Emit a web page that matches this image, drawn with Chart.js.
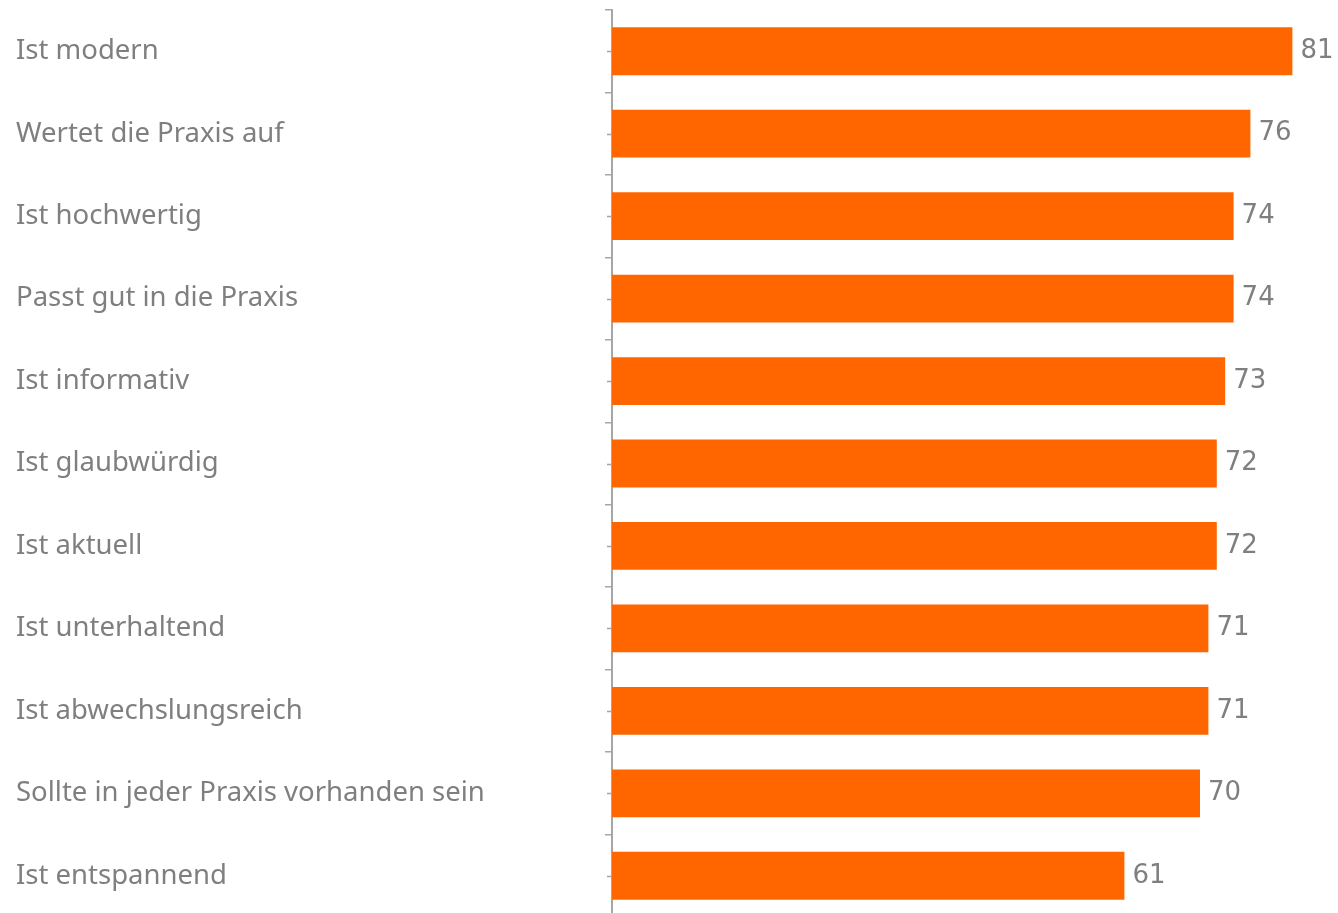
<!DOCTYPE html>
<html>
<head>
<meta charset="utf-8">
<script src="https://cdn.jsdelivr.net/npm/chart.js@4"></script>
<style>
	html, body { margin: 0; padding: 0; background: #fff; overflow: hidden; }
	#wrap { width: 1338px; height: 917px; }
</style>
</head>
<body>
<div id="wrap"><canvas id="chart"></canvas></div>
<script>
// chart data

const categories = [
	'Ist modern',
	'Wertet die Praxis auf',
	'Ist hochwertig',
	'Passt gut in die Praxis',
	'Ist informativ',
	'Ist glaubwürdig',
	'Ist aktuell',
	'Ist unterhaltend',
	'Ist abwechslungsreich',
	'Sollte in jeder Praxis vorhanden sein',
	'Ist entspannend'
];
const values = [81, 76, 74, 74, 73, 72, 72, 71, 71, 70, 61];

const textGray = '#7f7f7f',
	axisGray = '#a6a6a6';

// value labels at bar ends
const valueLabels = {
	id: 'valueLabels',
	afterDatasetsDraw(chart) {
		const ctx = chart.ctx;
		const meta = chart.getDatasetMeta(0);
		ctx.save();
		ctx.font = '26px "DejaVu Sans", Verdana, sans-serif';
		ctx.fillStyle = textGray;
		ctx.textAlign = 'left';
		ctx.textBaseline = 'middle';
		meta.data.forEach((bar, i) => {
			ctx.fillText(String(values[i]), bar.x + 8, bar.y);
		});
		ctx.restore();
	}
};

// short ticks at category centers
const centerTicks = {
	id: 'centerTicks',
	afterDraw(chart) {
		const ctx = chart.ctx;
		const y = chart.scales.y;
		ctx.save();
		ctx.strokeStyle = axisGray;
		ctx.lineWidth = 1.5;
		categories.forEach((c, i) => {
			const py = Math.round(y.getPixelForValue(i)) + 0.5;
			ctx.beginPath();
			ctx.moveTo(y.right - 5, py);
			ctx.lineTo(y.right, py);
			ctx.stroke();
		});
		ctx.restore();
	}
};

document.addEventListener('DOMContentLoaded', () => {
	const chartBar = document.getElementById('chart');

	new Chart(chartBar, {
		type: 'bar',
		data: {
			labels: categories,
			datasets: [{
				data: values,
				backgroundColor: '#ff6600',
				borderWidth: 0,
				categoryPercentage: 1,
				barPercentage: 0.58
			}]
		},
		options: {
			indexAxis: 'y',
			responsive: true,
			maintainAspectRatio: false,
			animation: false,
			layout: {
				padding: { left: 16, right: 12, top: 10, bottom: 0 }
			},
			scales: {
				x: {
					display: false,
					min: 0,
					max: 85
				},
				y: {
					offset: true,
					grid: {
						offset: true,
						drawOnChartArea: false,
						color: axisGray,
						lineWidth: 1.5,
						tickLength: 7
					},
					border: {
						color: axisGray,
						width: 2
					},
					ticks: {
						crossAlign: 'far',
						color: textGray,
						font: { family: '"Noto Sans", "DejaVu Sans", sans-serif', size: 27.5 }
					},
					afterFit(scale) {
						scale.width = 596;
						scale.paddingTop = 0;
						scale.paddingBottom = 0;
					}
				}
			},
			plugins: {
				legend: false,
				tooltip: { enabled: false }
			}
		},
		plugins: [valueLabels, centerTicks]
	});
});
</script>
</body>
</html>
